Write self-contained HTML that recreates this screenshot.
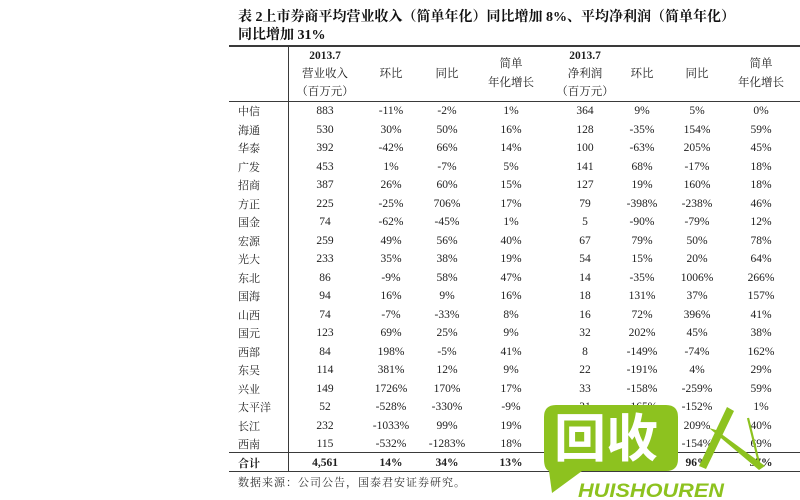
<!DOCTYPE html>
<html><head><meta charset="utf-8">
<style>
html,body{margin:0;padding:0;background:#fff;}
#c{position:relative;width:800px;height:500px;overflow:hidden;background:#fff;color:#1e1e1e;font-family:"Liberation Serif","Noto Serif CJK SC",serif;}
.t{position:absolute;white-space:nowrap;font-family:"Liberation Serif","Noto Serif CJK SC",serif;font-weight:700;font-size:14px;line-height:16px;left:238px;color:#111;}
.h{position:absolute;width:80px;text-align:center;font-size:11.5px;line-height:14px;white-space:nowrap;}
.c{position:absolute;width:70px;text-align:center;font-size:11.5px;line-height:14px;white-space:nowrap;}
.l{position:absolute;left:238px;font-size:11px;line-height:14px;white-space:nowrap;font-family:"Noto Serif CJK SC",serif;}
.b{font-weight:700;}
.ln{position:absolute;background:#3a3a3a;}
</style></head><body>
<div id="c">
<div class="t" style="top:10px;">表 2上市券商平均营业收入（简单年化）同比增加 8%、平均净利润（简单年化）</div>
<div class="t" style="top:28px;">同比增加 31%</div>

<div class="ln" style="left:229px;top:45px;width:571px;height:1.5px;"></div>
<div class="ln" style="left:229px;top:101px;width:571px;height:1px;"></div>
<div class="ln" style="left:229px;top:452px;width:571px;height:1px;"></div>
<div class="ln" style="left:229px;top:470.5px;width:571px;height:1.5px;"></div>
<div class="ln" style="left:287.5px;top:45px;width:1px;height:427px;"></div>

<!-- headers -->
<div class="h b" style="left:285px;top:49px;">2013.7</div>
<div class="h" style="left:285px;top:67px;">营业收入</div>
<div class="h" style="left:285px;top:85px;">（百万元）</div>
<div class="h" style="left:351px;top:67px;">环比</div>
<div class="h" style="left:407px;top:67px;">同比</div>
<div class="h" style="left:471px;top:57px;">简单</div>
<div class="h" style="left:471px;top:76px;">年化增长</div>
<div class="h b" style="left:545px;top:49px;">2013.7</div>
<div class="h" style="left:545px;top:67px;">净利润</div>
<div class="h" style="left:545px;top:85px;">（百万元）</div>
<div class="h" style="left:602px;top:67px;">环比</div>
<div class="h" style="left:657px;top:67px;">同比</div>
<div class="h" style="left:721px;top:57px;">简单</div>
<div class="h" style="left:721px;top:76px;">年化增长</div>

<div style="position:absolute;left:0;top:0;">
<div class="l" style="top:104px;">中信</div><div class="c" style="left:290px;top:104px;">883</div><div class="c" style="left:356px;top:104px;">-11%</div><div class="c" style="left:412px;top:104px;">-2%</div><div class="c" style="left:476px;top:104px;">1%</div><div class="c" style="left:550px;top:104px;">364</div><div class="c" style="left:607px;top:104px;">9%</div><div class="c" style="left:662px;top:104px;">5%</div><div class="c" style="left:726px;top:104px;">0%</div>
<div class="l" style="top:122.5px;">海通</div><div class="c" style="left:290px;top:122.5px;">530</div><div class="c" style="left:356px;top:122.5px;">30%</div><div class="c" style="left:412px;top:122.5px;">50%</div><div class="c" style="left:476px;top:122.5px;">16%</div><div class="c" style="left:550px;top:122.5px;">128</div><div class="c" style="left:607px;top:122.5px;">-35%</div><div class="c" style="left:662px;top:122.5px;">154%</div><div class="c" style="left:726px;top:122.5px;">59%</div>
<div class="l" style="top:141px;">华泰</div><div class="c" style="left:290px;top:141px;">392</div><div class="c" style="left:356px;top:141px;">-42%</div><div class="c" style="left:412px;top:141px;">66%</div><div class="c" style="left:476px;top:141px;">14%</div><div class="c" style="left:550px;top:141px;">100</div><div class="c" style="left:607px;top:141px;">-63%</div><div class="c" style="left:662px;top:141px;">205%</div><div class="c" style="left:726px;top:141px;">45%</div>
<div class="l" style="top:159.5px;">广发</div><div class="c" style="left:290px;top:159.5px;">453</div><div class="c" style="left:356px;top:159.5px;">1%</div><div class="c" style="left:412px;top:159.5px;">-7%</div><div class="c" style="left:476px;top:159.5px;">5%</div><div class="c" style="left:550px;top:159.5px;">141</div><div class="c" style="left:607px;top:159.5px;">68%</div><div class="c" style="left:662px;top:159.5px;">-17%</div><div class="c" style="left:726px;top:159.5px;">18%</div>
<div class="l" style="top:178px;">招商</div><div class="c" style="left:290px;top:178px;">387</div><div class="c" style="left:356px;top:178px;">26%</div><div class="c" style="left:412px;top:178px;">60%</div><div class="c" style="left:476px;top:178px;">15%</div><div class="c" style="left:550px;top:178px;">127</div><div class="c" style="left:607px;top:178px;">19%</div><div class="c" style="left:662px;top:178px;">160%</div><div class="c" style="left:726px;top:178px;">18%</div>
<div class="l" style="top:196.5px;">方正</div><div class="c" style="left:290px;top:196.5px;">225</div><div class="c" style="left:356px;top:196.5px;">-25%</div><div class="c" style="left:412px;top:196.5px;">706%</div><div class="c" style="left:476px;top:196.5px;">17%</div><div class="c" style="left:550px;top:196.5px;">79</div><div class="c" style="left:607px;top:196.5px;">-398%</div><div class="c" style="left:662px;top:196.5px;">-238%</div><div class="c" style="left:726px;top:196.5px;">46%</div>
<div class="l" style="top:215px;">国金</div><div class="c" style="left:290px;top:215px;">74</div><div class="c" style="left:356px;top:215px;">-62%</div><div class="c" style="left:412px;top:215px;">-45%</div><div class="c" style="left:476px;top:215px;">1%</div><div class="c" style="left:550px;top:215px;">5</div><div class="c" style="left:607px;top:215px;">-90%</div><div class="c" style="left:662px;top:215px;">-79%</div><div class="c" style="left:726px;top:215px;">12%</div>
<div class="l" style="top:233.5px;">宏源</div><div class="c" style="left:290px;top:233.5px;">259</div><div class="c" style="left:356px;top:233.5px;">49%</div><div class="c" style="left:412px;top:233.5px;">56%</div><div class="c" style="left:476px;top:233.5px;">40%</div><div class="c" style="left:550px;top:233.5px;">67</div><div class="c" style="left:607px;top:233.5px;">79%</div><div class="c" style="left:662px;top:233.5px;">50%</div><div class="c" style="left:726px;top:233.5px;">78%</div>
<div class="l" style="top:252px;">光大</div><div class="c" style="left:290px;top:252px;">233</div><div class="c" style="left:356px;top:252px;">35%</div><div class="c" style="left:412px;top:252px;">38%</div><div class="c" style="left:476px;top:252px;">19%</div><div class="c" style="left:550px;top:252px;">54</div><div class="c" style="left:607px;top:252px;">15%</div><div class="c" style="left:662px;top:252px;">20%</div><div class="c" style="left:726px;top:252px;">64%</div>
<div class="l" style="top:270.5px;">东北</div><div class="c" style="left:290px;top:270.5px;">86</div><div class="c" style="left:356px;top:270.5px;">-9%</div><div class="c" style="left:412px;top:270.5px;">58%</div><div class="c" style="left:476px;top:270.5px;">47%</div><div class="c" style="left:550px;top:270.5px;">14</div><div class="c" style="left:607px;top:270.5px;">-35%</div><div class="c" style="left:662px;top:270.5px;">1006%</div><div class="c" style="left:726px;top:270.5px;">266%</div>
<div class="l" style="top:289px;">国海</div><div class="c" style="left:290px;top:289px;">94</div><div class="c" style="left:356px;top:289px;">16%</div><div class="c" style="left:412px;top:289px;">9%</div><div class="c" style="left:476px;top:289px;">16%</div><div class="c" style="left:550px;top:289px;">18</div><div class="c" style="left:607px;top:289px;">131%</div><div class="c" style="left:662px;top:289px;">37%</div><div class="c" style="left:726px;top:289px;">157%</div>
<div class="l" style="top:307.5px;">山西</div><div class="c" style="left:290px;top:307.5px;">74</div><div class="c" style="left:356px;top:307.5px;">-7%</div><div class="c" style="left:412px;top:307.5px;">-33%</div><div class="c" style="left:476px;top:307.5px;">8%</div><div class="c" style="left:550px;top:307.5px;">16</div><div class="c" style="left:607px;top:307.5px;">72%</div><div class="c" style="left:662px;top:307.5px;">396%</div><div class="c" style="left:726px;top:307.5px;">41%</div>
<div class="l" style="top:326px;">国元</div><div class="c" style="left:290px;top:326px;">123</div><div class="c" style="left:356px;top:326px;">69%</div><div class="c" style="left:412px;top:326px;">25%</div><div class="c" style="left:476px;top:326px;">9%</div><div class="c" style="left:550px;top:326px;">32</div><div class="c" style="left:607px;top:326px;">202%</div><div class="c" style="left:662px;top:326px;">45%</div><div class="c" style="left:726px;top:326px;">38%</div>
<div class="l" style="top:344.5px;">西部</div><div class="c" style="left:290px;top:344.5px;">84</div><div class="c" style="left:356px;top:344.5px;">198%</div><div class="c" style="left:412px;top:344.5px;">-5%</div><div class="c" style="left:476px;top:344.5px;">41%</div><div class="c" style="left:550px;top:344.5px;">8</div><div class="c" style="left:607px;top:344.5px;">-149%</div><div class="c" style="left:662px;top:344.5px;">-74%</div><div class="c" style="left:726px;top:344.5px;">162%</div>
<div class="l" style="top:363px;">东吴</div><div class="c" style="left:290px;top:363px;">114</div><div class="c" style="left:356px;top:363px;">381%</div><div class="c" style="left:412px;top:363px;">12%</div><div class="c" style="left:476px;top:363px;">9%</div><div class="c" style="left:550px;top:363px;">22</div><div class="c" style="left:607px;top:363px;">-191%</div><div class="c" style="left:662px;top:363px;">4%</div><div class="c" style="left:726px;top:363px;">29%</div>
<div class="l" style="top:381.5px;">兴业</div><div class="c" style="left:290px;top:381.5px;">149</div><div class="c" style="left:356px;top:381.5px;">1726%</div><div class="c" style="left:412px;top:381.5px;">170%</div><div class="c" style="left:476px;top:381.5px;">17%</div><div class="c" style="left:550px;top:381.5px;">33</div><div class="c" style="left:607px;top:381.5px;">-158%</div><div class="c" style="left:662px;top:381.5px;">-259%</div><div class="c" style="left:726px;top:381.5px;">59%</div>
<div class="l" style="top:400px;">太平洋</div><div class="c" style="left:290px;top:400px;">52</div><div class="c" style="left:356px;top:400px;">-528%</div><div class="c" style="left:412px;top:400px;">-330%</div><div class="c" style="left:476px;top:400px;">-9%</div><div class="c" style="left:550px;top:400px;">21</div><div class="c" style="left:607px;top:400px;">-165%</div><div class="c" style="left:662px;top:400px;">-152%</div><div class="c" style="left:726px;top:400px;">1%</div>
<div class="l" style="top:418.5px;">长江</div><div class="c" style="left:290px;top:418.5px;">232</div><div class="c" style="left:356px;top:418.5px;">-1033%</div><div class="c" style="left:412px;top:418.5px;">99%</div><div class="c" style="left:476px;top:418.5px;">19%</div><div class="c" style="left:550px;top:418.5px;">45</div><div class="c" style="left:607px;top:418.5px;">-88%</div><div class="c" style="left:662px;top:418.5px;">209%</div><div class="c" style="left:726px;top:418.5px;">40%</div>
<div class="l" style="top:437px;">西南</div><div class="c" style="left:290px;top:437px;">115</div><div class="c" style="left:356px;top:437px;">-532%</div><div class="c" style="left:412px;top:437px;">-1283%</div><div class="c" style="left:476px;top:437px;">18%</div><div class="c" style="left:550px;top:437px;">18</div><div class="c" style="left:607px;top:437px;">-156%</div><div class="c" style="left:662px;top:437px;">-154%</div><div class="c" style="left:726px;top:437px;">69%</div>
<div class="l b" style="top:455.5px;">合计</div><div class="c b" style="left:290px;top:455.5px;">4,561</div><div class="c b" style="left:356px;top:455.5px;">14%</div><div class="c b" style="left:412px;top:455.5px;">34%</div><div class="c b" style="left:476px;top:455.5px;">13%</div><div class="c b" style="left:550px;top:455.5px;">1,581</div><div class="c b" style="left:607px;top:455.5px;">-12%</div><div class="c b" style="left:662px;top:455.5px;">96%</div><div class="c b" style="left:726px;top:455.5px;">57%</div>
</div>

<div class="l" style="top:475px;font-size:11px;letter-spacing:1px;color:#333;">数据来源：公司公告，国泰君安证券研究。</div>

<svg style="position:absolute;left:0;top:0;" width="800" height="500" viewBox="0 0 800 500">
  <path d="M556,405 H666 Q678,405 678,417 V459 Q678,471 666,471 H582 L552,493 L549,471 Q544,469 544,459 V417 Q544,405 556,405 Z" fill="#8dc21f"/>
  <text x="554" y="457" font-family="Noto Sans CJK SC, WenQuanYi Zen Hei, sans-serif" font-weight="700" font-size="52" fill="#ffffff">回收</text>
  <text x="578" y="497" font-family="Liberation Sans, sans-serif" font-weight="700" font-style="italic" font-size="19" fill="#8dc21f" textLength="146" lengthAdjust="spacingAndGlyphs">HUISHOUREN</text>
  <polygon points="727,407 734,411 706,469 699,466" fill="#8dc21f"/>
  <polygon points="709,428 716,430 765,466 759,470" fill="#8dc21f"/>
  <line x1="748" y1="418" x2="760" y2="467" stroke="#8dc21f" stroke-width="2.2"/>
</svg>
</div>
</body></html>
